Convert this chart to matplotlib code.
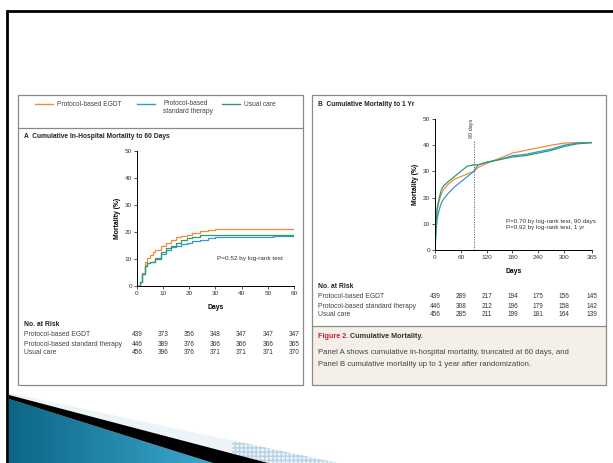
"""Slide with the two cumulative mortality panels (in-hospital to 60 days, 1 year)."""
import matplotlib.pyplot as plt
import numpy as np
from matplotlib.colors import LinearSegmentedColormap
from matplotlib.patches import Polygon, Rectangle
from matplotlib.transforms import blended_transform_factory

W, H = 613, 463

# Panel A: cumulative in-hospital mortality (%) to 60 days
egdt_a_days = [0, 1, 2, 3, 4, 5, 6, 7, 9, 11, 13, 15, 17, 19, 21, 24, 27, 30, 60]
egdt_a = [0, 1.5, 5, 9, 10.5, 11.5, 12.5, 13.5, 15, 16, 17, 18, 18.5, 19, 19.5, 20.3, 20.8, 21.1, 21.1]
std_a_days = [0, 1, 2, 3, 4, 5, 7, 9, 11, 13, 15, 17, 19, 21, 24, 27, 30, 52, 60]
std_a = [0, 1.5, 4.5, 7.5, 8.5, 9, 10.5, 12, 13.5, 14.5, 15, 15.5, 16, 16.5, 17.2, 17.7, 18.1, 18.5, 18.6]
usual_a_days = [0, 1, 2, 3, 4, 5, 7, 9, 11, 13, 15, 17, 19, 21, 24, 60]
usual_a = [0, 1.5, 4.5, 7.5, 8.5, 9, 10, 12.5, 14, 15, 16, 17, 17.8, 18.3, 18.8, 18.8]

# Panel B: cumulative mortality (%) to 1 year
b_days = [0, 2, 5, 10, 15, 20, 30, 45, 60, 75, 90, 100, 120, 150, 180, 210, 240, 270, 300, 330, 365]
egdt_b = [0, 8, 15, 19, 21.5, 23, 25, 27, 28, 29, 30, 31.5, 33, 35, 37, 38, 39, 40, 40.8, 41, 41]
std_b = [0, 6, 12, 15.5, 18, 19.5, 21.5, 24, 26, 28, 30, 32.5, 33.5, 34.5, 36, 36.5, 37.5, 38.5, 40, 40.8, 41]
usual_b = [0, 8, 16, 20, 23, 24.5, 26, 28, 30, 32, 32.5, 32.5, 33.5, 34.5, 35.5, 36, 37, 38, 39.5, 40.5, 41]

groups = ["Protocol-based EGDT", "Protocol-based standard therapy", "Usual care"]
colors = ["#ef8c3c", "#3797cf", "#2f9a6c"]

ticks_a = [0, 10, 20, 30, 40, 50, 60]
ticks_b = [0, 60, 120, 180, 240, 300, 365]
at_risk_a = [[439, 373, 356, 348, 347, 347, 347],
             [446, 389, 376, 366, 366, 366, 365],
             [456, 396, 376, 371, 371, 371, 370]]
at_risk_b = [[439, 289, 217, 194, 175, 156, 145],
             [446, 308, 212, 196, 179, 158, 142],
             [456, 285, 211, 199, 181, 164, 139]]

plt.rcParams["font.family"] = ["Liberation Sans", "DejaVu Sans"]
fig = plt.figure(figsize=(W / 100, H / 100), dpi=100)

# background axes in pixel coordinates (origin top-left) for slide decoration and boxes
bg = fig.add_axes([0, 0, 1, 1], zorder=-1)
bg.axis("off")


def txt(x, y, s, **kw):
    kw.setdefault("fontsize", 4.9)
    kw.setdefault("va", "center")
    kw.setdefault("color", "#444444")
    bg.text(x, y, s, **kw)


# bottom-left decoration
pale = Polygon([(9, 393), (338, 463), (9, 463)], facecolor="#edf4f8", edgecolor="none", zorder=1)
bg.add_patch(pale)
grid = Rectangle((232, 428), 110, 40, facecolor="none", edgecolor="#b5d3e4", hatch="++++", lw=0,
                 zorder=1.2)
bg.add_patch(grid)
grid.set_clip_path(pale)
blue = Polygon([(9, 399), (213, 463), (9, 463)], facecolor="none", edgecolor="none")
bg.add_patch(blue)
im = bg.imshow(np.linspace(0, 1, 256)[None, :], extent=[9, 213, 463, 399], aspect="auto",
               cmap=LinearSegmentedColormap.from_list("slide", ["#0c6587", "#3ba9cd"]), zorder=1.5)
im.set_clip_path(blue)
bg.add_patch(Polygon([(9, 395), (268, 463), (213, 463), (9, 399)], facecolor="black",
                     edgecolor="none", zorder=2))
bg.set_xlim(0, W)
bg.set_ylim(H, 0)

# slide frame
bg.plot([7, 7, W], [H, 11, 11], color="black", lw=2, solid_joinstyle="miter", zorder=3)

# panel boxes
bg.add_patch(Rectangle((18, 95), 285, 290, facecolor="white", edgecolor="#8a8a8a", lw=0.9))
bg.plot([18, 303], [128, 128], color="#8a8a8a", lw=0.9)
bg.add_patch(Rectangle((312, 326), 294, 59, facecolor="#f4efe9", edgecolor="none"))
bg.add_patch(Rectangle((312, 95), 294, 290, facecolor="none", edgecolor="#8a8a8a", lw=0.9))
bg.plot([312, 606], [326, 326], color="#8a8a8a", lw=0.9)

# legend
for (lx, tx, label), c in zip([(35, 57, groups[0]), (137, 163, "Protocol-based\nstandard therapy"),
                               (222, 244, groups[2])], colors):
    bg.plot([lx, lx + 18], [104, 104], color=c, lw=1)
    txt(tx, 104 if "\n" not in label else 107.5, label, fontsize=4.8, linespacing=1.2)

txt(24, 136, "A  Cumulative In-Hospital Mortality to 60 Days", fontweight="bold", fontsize=4.8,
    color="#222222")
txt(318, 105, "B  Cumulative Mortality to 1 Yr", fontweight="bold", fontsize=4.8, color="#222222")


def style(ax, xticks):
    ax.spines[["top", "right"]].set_visible(False)
    for s in ("left", "bottom"):
        ax.spines[s].set_linewidth(0.7)
    ax.set_xticks(xticks)
    ax.set_yticks(range(0, 51, 10))
    ax.set_ylim(0, 50)
    ax.set_xlim(xticks[0], xticks[-1])
    ax.patch.set_alpha(0)
    ax.tick_params(labelsize=4.6, length=2, width=0.6, pad=1.5, colors="#333333")
    ax.set_xlabel("Days", fontsize=4.9, fontweight="bold", labelpad=6)
    ax.set_ylabel("Mortality (%)", fontsize=4.9, fontweight="bold", labelpad=3)


ax_a = fig.add_axes([137 / W, 1 - 286 / H, 157 / W, 135 / H])
for d, v, c in zip([egdt_a_days, std_a_days, usual_a_days], [egdt_a, std_a, usual_a], colors):
    ax_a.step(d, v, where="post", color=c, lw=0.9)
style(ax_a, ticks_a)
ax_a.text(30.5, 10.2, "P=0.52 by log-rank test", fontsize=4.6, color="#333333", va="center")

ax_b = fig.add_axes([435 / W, 1 - 250 / H, 157 / W, 131 / H])
for v, c in zip([egdt_b, std_b, usual_b], colors):
    ax_b.plot(b_days, v, color=c, lw=0.9)
style(ax_b, ticks_b)
ax_b.plot([90, 90], [0, 42], ls=(0, (1.5, 1.5)), color="#555555", lw=0.6)
ax_b.text(86, 46.5, "90 days", rotation=90, fontsize=4.0, ha="center", va="center", color="#333333")
ax_b.text(165, 9.6, "P=0.70 by log-rank test, 90 days\nP=0.92 by log-rank test, 1 yr",
          fontsize=4.5, color="#333333", va="center", linespacing=1.3)


def risk_table(ax, ticks, counts, x_label, y_head, ys):
    txt(x_label, y_head, "No. at Risk", fontweight="bold", color="#222222")
    tr = blended_transform_factory(ax.transData, bg.transData)
    for name, row, y in zip(groups, counts, ys):
        txt(x_label, y, name)
        for t, n in zip(ticks, row):
            ax.text(t, y, str(n), transform=tr, fontsize=4.7, ha="center", va="center",
                    color="#333333")


risk_table(ax_a, ticks_a, at_risk_a, 24, 325, [335, 344, 353])
risk_table(ax_b, ticks_b, at_risk_b, 318, 287, [297, 306, 315])

# caption
txt(318, 337, "Figure 2.", color="#c8202f", fontweight="bold", fontsize=5.2)
txt(350, 337, "Cumulative Mortality.", fontweight="bold", fontsize=5.2, color="#333333")
txt(318, 352, "Panel A shows cumulative in-hospital mortality, truncated at 60 days, and", fontsize=5.6)
txt(318, 364, "Panel B cumulative mortality up to 1 year after randomization.", fontsize=5.6)

fig.savefig("out.png", dpi=100)
